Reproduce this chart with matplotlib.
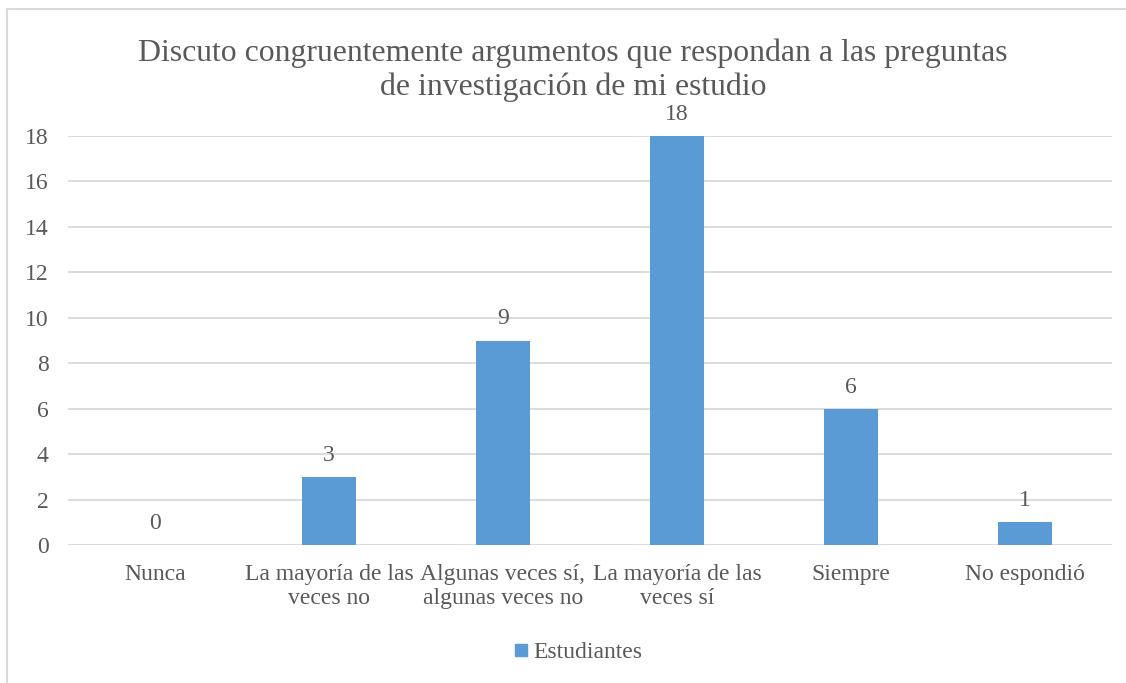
import matplotlib
matplotlib.use("Agg")
import matplotlib.pyplot as plt
from matplotlib.lines import Line2D

categories = ["Nunca", "La mayoría de las\nveces no", "Algunas veces sí,\nalgunas veces no",
              "La mayoría de las\nveces sí", "Siempre", "No espondió"]
values = [0, 3, 9, 18, 6, 1]
series_name = "Estudiantes"
title = "Discuto congruentemente argumentos que respondan a las preguntas\nde investigación de mi estudio"
yticks = [0, 2, 4, 6, 8, 10, 12, 14, 16, 18]

TEXT = "#595959"
BAR = "#5B9BD5"
GRID = "#D9D9D9"

plt.rcParams['font.family'] = ['Liberation Serif', 'DejaVu Serif']

W, H = 1126, 683
fig = plt.figure(figsize=(W/100, H/100), dpi=100)
ax = fig.add_axes([68/W, 1-545/H, (1112-68)/W, (545-136)/H])

x = list(range(len(categories)))
bars = ax.bar(x, values, width=0.316, color=BAR, label=series_name, zorder=3)
for xi, v in zip(x, values):
    ax.annotate(str(v), (xi, v), xytext=(0, 8), textcoords="offset points",
                ha="center", va="bottom", fontsize=17, color=TEXT)

ax.set_xlim(-0.5, len(categories)-0.5)
ax.set_ylim(0, 18)
ax.set_yticks(yticks)
ax.set_yticklabels([str(t) for t in yticks], fontsize=17, color=TEXT)
ax.set_xticks(x)
ax.set_xticklabels(categories, fontsize=17, color=TEXT, linespacing=1.15)
ax.tick_params(axis='both', length=0)
ax.tick_params(axis='y', pad=14)
ax.tick_params(axis='x', pad=14)
ax.grid(axis='y', color=GRID, linewidth=1.3, zorder=0)
for s in ax.spines.values():
    s.set_visible(False)

fig.text(573/W, 1-70/H, title, ha="center", va="center", fontsize=22.9,
         color=TEXT, linespacing=1.22)

leg = fig.legend(handles=[Line2D([], [], marker='s', linestyle='', color=BAR, markersize=9)],
                 labels=[series_name], loc="center", bbox_to_anchor=(577/W, 1-652/H),
                 frameon=False, fontsize=17, handletextpad=0.1, handlelength=0.8)
for t in leg.get_texts():
    t.set_color(TEXT)

# chart border (left and top visible)
fig.add_artist(Line2D([7/W, 7/W], [0, 1-9/H], color=GRID, linewidth=1.5, transform=fig.transFigure))
fig.add_artist(Line2D([7/W, 1], [1-9/H, 1-9/H], color=GRID, linewidth=1.5, transform=fig.transFigure))

fig.savefig("out.png", dpi=100)
